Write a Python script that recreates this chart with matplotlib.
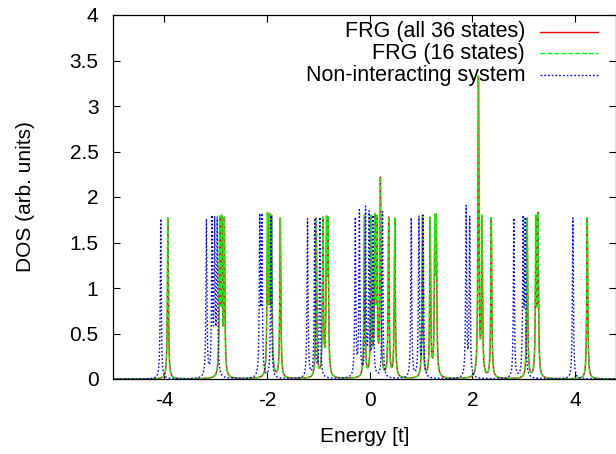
import numpy as np
import matplotlib
matplotlib.use("Agg")
import matplotlib.pyplot as plt
from matplotlib.lines import Line2D

plt.rcParams['font.family'] = ['Liberation Sans', 'DejaVu Sans']

# Peak positions (energy in units of t) and peak heights
frg36_E = [-3.93, -2.92, -2.88, -2.83, -1.99, -1.95, -1.91, -1.74, -1.04, -0.91,
           -0.84, -0.81, -0.10, 0.03, 0.10, 0.14, 0.21, 0.37, 0.49, 1.03,
           1.18, 1.27, 1.30, 2.12, 2.19, 2.37, 3.07, 3.24, 3.28, 4.24]
frg36_h = [1.77, 1.79, 1.80, 1.78, 1.83, 1.82, 1.80, 1.77, 1.77, 1.78,
           1.79, 1.78, 1.80, 1.80, 1.82, 1.80, 2.22, 1.78, 1.77, 1.80,
           1.78, 1.81, 1.81, 3.33, 1.80, 1.77, 1.77, 1.80, 1.83, 1.77]

frg16_E = list(frg36_E)
frg16_h = list(frg36_h)

nonint_E = [-4.07, -3.18, -3.07, -3.02, -2.97, -2.14, -2.10, -1.92, -1.21, -1.07,
            -0.97, -0.28, -0.20, -0.08, -0.01, 0.065, 0.25, 0.81, 0.96, 1.04,
            1.88, 1.95, 2.81, 2.99, 3.03, 3.96]
nonint_h = [1.76, 1.76, 1.80, 1.79, 1.78, 1.82, 1.82, 1.80, 1.76, 1.77,
            1.78, 1.78, 1.86, 1.90, 1.85, 1.80, 1.84, 1.77, 1.79, 1.80,
            1.91, 1.79, 1.77, 1.80, 1.78, 1.77]

gamma = 0.011
xticks = [-4, -2, 0, 2, 4]
yticks = [0, 0.5, 1, 1.5, 2, 2.5, 3, 3.5, 4]
ytick_labels = ['0', '0.5', '1', '1.5', '2', '2.5', '3', '3.5', '4']

E = np.linspace(-5.2, 5.2, 40001)


def lor(d):
    return gamma**2 / (d**2 + gamma**2)


def dos(centers, heights):
    c = np.asarray(centers, float)
    h = np.asarray(heights, float)
    # amplitudes chosen so that the summed curve reaches the read peak heights
    A = lor(c[:, None] - c[None, :])
    amp = np.linalg.solve(A, h)
    return (amp[None, :] * lor(E[:, None] - c[None, :])).sum(axis=1)


fig = plt.figure(figsize=(6.16, 4.54), dpi=100)
ax = fig.add_axes([113/616, 1 - 379/454, 1 - 113/616, 364/454])

styles = [dict(color='#ff0000', ls='-'),
          dict(color='#00ff00', ls=(0, (3.5, 1.5))),
          dict(color='#0000ff', ls=(0, (1.2, 1.5)))]
lw = 1.0

ax.plot(E, dos(frg36_E, frg36_h), lw=lw, **styles[0])
ax.plot(E, dos(frg16_E, frg16_h), lw=lw, **styles[1])
ax.plot(E, dos(nonint_E, nonint_h), lw=lw, **styles[2])

ax.set_xlim(-5.0, 4.80)
ax.set_ylim(0, 4)
ax.set_xticks(xticks)
ax.set_xticklabels([str(t) for t in xticks])
ax.set_yticks(yticks)
ax.set_yticklabels(ytick_labels)
ax.tick_params(direction='in', length=5, width=0.8, top=True, right=True,
               labelsize=15, colors='black')
ax.tick_params(axis='y', pad=10.5)
ax.tick_params(axis='x', pad=9)
for s in ax.spines.values():
    s.set_linewidth(0.9)

ax.set_xlabel('Energy [t]', fontsize=15, labelpad=12)
ax.set_ylabel('DOS (arb. units)', fontsize=15, labelpad=25)

# key (gnuplot style: text right-aligned, sample to the right)
labels = ['FRG (all 36 states)', 'FRG (16 states)', 'Non-interacting system']
rows_px = [32, 53, 75]
for lab, st, ypx in zip(labels, styles, rows_px):
    yf = 1 - ypx / 454
    fig.text(525/616, yf, lab, ha='right', va='center', fontsize=15.5)
    fig.add_artist(Line2D([540/616, 598/616], [yf, yf], lw=lw, **st))

fig.savefig('out.png', dpi=100)
